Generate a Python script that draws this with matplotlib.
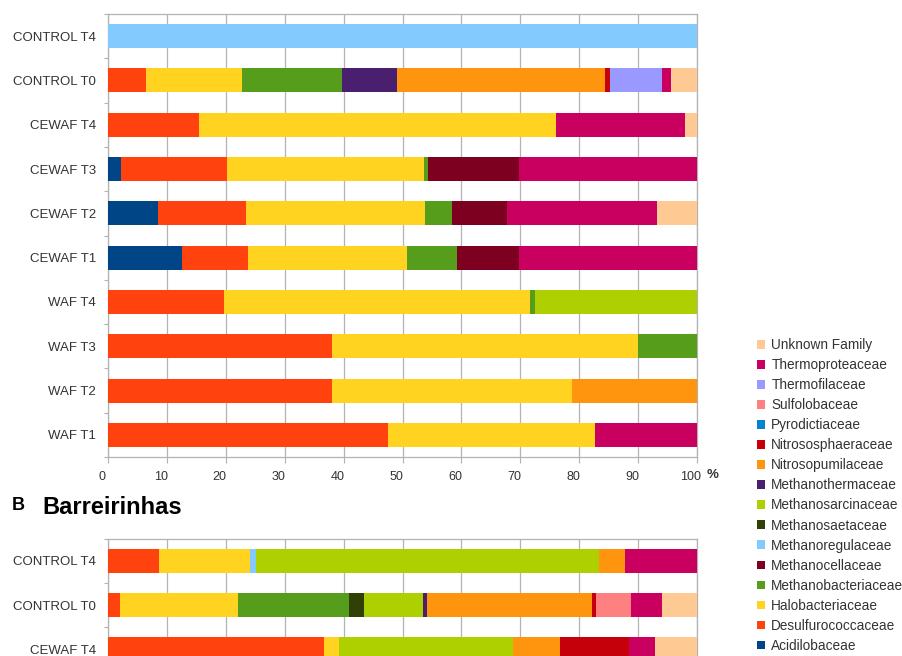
import matplotlib
matplotlib.use('Agg')
import matplotlib.pyplot as plt
import matplotlib.transforms as mtransforms
from matplotlib.patches import Patch
import numpy as np

plt.rcParams['font.family'] = ['Liberation Sans', 'DejaVu Sans']

# families in stacking order (left to right)
families = ['Acidilobaceae', 'Desulfurococcaceae', 'Halobacteriaceae', 'Methanobacteriaceae',
            'Methanocellaceae', 'Methanoregulaceae', 'Methanosaetaceae', 'Methanosarcinaceae',
            'Methanothermaceae', 'Nitrosopumilaceae', 'Nitrososphaeraceae', 'Pyrodictiaceae',
            'Sulfolobaceae', 'Thermofilaceae', 'Thermoproteaceae', 'Unknown Family']
colors = ['#004586', '#ff420e', '#ffd320', '#579d1c', '#7e0021', '#83caff', '#314004',
          '#aecf00', '#4b1f6f', '#ff950e', '#c5000b', '#0084d1', '#ff8080', '#9999ff',
          '#c9005f', '#ffc993']

# panel A (top), rows top to bottom, % per family in the order above
a_labels = ['CONTROL T4', 'CONTROL T0', 'CEWAF T4', 'CEWAF T3', 'CEWAF T2',
            'CEWAF T1', 'WAF T4', 'WAF T3', 'WAF T2', 'WAF T1']
a_control_t4 = [0, 0, 0, 0, 0, 100, 0, 0, 0, 0, 0, 0, 0, 0, 0, 0]
a_control_t0 = [0, 6.5, 16.3, 16.9, 0, 0, 0, 0, 9.3, 35.3, 1.0, 0, 0, 8.75, 1.55, 4.4]
a_cewaf_t4 = [0, 15.5, 60.6, 0, 0, 0, 0, 0, 0, 0, 0, 0, 0, 0, 21.8, 2.1]
a_cewaf_t3 = [2.2, 18.0, 33.5, 0.7, 15.3, 0, 0, 0, 0, 0, 0, 0, 0, 0, 30.3, 0]
a_cewaf_t2 = [8.5, 15.0, 30.4, 4.5, 9.3, 0, 0, 0, 0, 0, 0, 0, 0, 0, 25.5, 6.8]
a_cewaf_t1 = [12.6, 11.1, 27.0, 8.5, 10.5, 0, 0, 0, 0, 0, 0, 0, 0, 0, 30.3, 0]
a_waf_t4 = [0, 19.7, 52.0, 0.8, 0, 0, 0, 27.5, 0, 0, 0, 0, 0, 0, 0, 0]
a_waf_t3 = [0, 38.0, 52.0, 10.0, 0, 0, 0, 0, 0, 0, 0, 0, 0, 0, 0, 0]
a_waf_t2 = [0, 38.0, 40.8, 0, 0, 0, 0, 0, 0, 21.2, 0, 0, 0, 0, 0, 0]
a_waf_t1 = [0, 47.6, 35.15, 0, 0, 0, 0, 0, 0, 0, 0, 0, 0, 0, 17.25, 0]

# panel B (Barreirinhas), only the visible rows
b_labels = ['CONTROL T4', 'CONTROL T0', 'CEWAF T4']
b_control_t4 = [0, 8.6, 15.5, 0, 0, 1.1, 0, 58.2, 0, 4.3, 0, 0, 0, 0, 12.3, 0]
b_control_t0 = [0, 2.0, 20.1, 18.9, 0, 0, 2.4, 10.0, 0.7, 28.0, 0.8, 0, 5.85, 0, 5.35, 5.9]
b_cewaf_t4 = [0, 36.6, 2.7, 0, 0, 0, 0, 29.45, 0, 8.05, 11.6, 0, 0, 0, 4.5, 7.1]

a_data = np.array([a_control_t4, a_control_t0, a_cewaf_t4, a_cewaf_t3, a_cewaf_t2,
                   a_cewaf_t1, a_waf_t4, a_waf_t3, a_waf_t2, a_waf_t1])
b_data = np.array([b_control_t4, b_control_t0, b_cewaf_t4])

GRID = '#b3b3b3'
TXT = '#333333'
W, H = 902, 656


def draw_panel(ax, data, labels, ylim):
    y = np.arange(len(labels))
    left = np.zeros(len(labels))
    for j, fam in enumerate(families):
        ax.barh(y, data[:, j], left=left, height=0.54, color=colors[j],
                linewidth=0, zorder=3)
        left += data[:, j]
    ax.set_xticks(np.arange(0, 101, 10))
    ax.set_yticks(y)
    ax.set_yticklabels(labels, fontsize=9.5, color=TXT)
    ax.set_yticks(np.arange(len(labels) + 1) - 0.5, minor=True)
    # limits after the ticks, set_yticks would widen them
    ax.set_xlim(0, 100)
    ax.set_ylim(*ylim)
    ax.tick_params(axis='y', which='major', length=0, pad=8.5)
    ax.tick_params(axis='y', which='minor', length=3, color=GRID, width=0.8)
    ax.tick_params(axis='x', length=4, color=GRID, width=0.8, labelsize=9,
                   labelcolor=TXT, pad=6)
    ax.grid(axis='x', color=GRID, linewidth=0.9, zorder=0)
    for s in ax.spines.values():
        s.set_color(GRID)
        s.set_linewidth(0.9)


fig = plt.figure(figsize=(W / 100, H / 100), dpi=100)

ax1 = fig.add_axes([108 / W, 1 - 457 / H, 589 / W, 443 / H])
draw_panel(ax1, a_data, a_labels, (9.5, -0.5))
# tick labels sit a little left of their ticks in the original
shift = mtransforms.ScaledTranslation(-6 / 100, 0, fig.dpi_scale_trans)
for lab in ax1.get_xticklabels():
    lab.set_transform(lab.get_transform() + shift)
fig.text(707 / W, 1 - 475 / H, '%', fontsize=9.5, fontweight='bold', color=TXT,
         va='center')

ax2 = fig.add_axes([108 / W, 0, 589 / W, 117.5 / H])
draw_panel(ax2, b_data, b_labels, (2.15, -0.5))
ax2.tick_params(axis='x', labelbottom=False)
ax2.spines['bottom'].set_visible(False)

fig.text(12 / W, 1 - 506 / H, 'B', fontsize=13, fontweight='bold', va='center')
fig.text(42 / W, 1 - 507 / H, 'Barreirinhas', fontsize=17, fontweight='bold', va='center')

handles = [Patch(facecolor=c, edgecolor='none') for c in colors][::-1]
fig.legend(handles, families[::-1], loc='upper left',
           bbox_to_anchor=(757 / W, 1 - 338 / H), frameon=False, fontsize=9.8,
           labelcolor=TXT, handlelength=0.6, handleheight=0.6, handletextpad=0.45,
           labelspacing=0.445, borderaxespad=0, borderpad=0)

fig.savefig('out.png', dpi=100)
